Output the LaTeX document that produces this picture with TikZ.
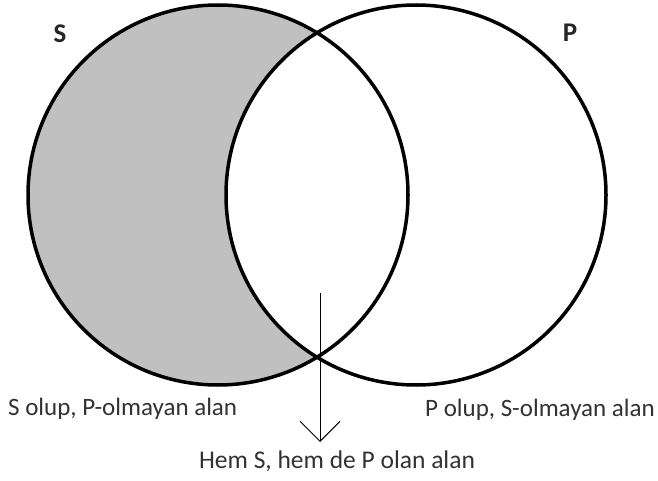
\documentclass[tikz,border=0pt]{standalone}
\usepackage{fontspec}
\setmainfont{Carlito}
\usetikzlibrary{arrows.meta, positioning, calc}

\definecolor{golge}{RGB}{192,192,192}
\definecolor{yazi}{RGB}{50,50,50}

\tikzset{
    kume/.style={line width=3.5pt, black},
    etiket/.style={font=\fontsize{27}{30}\selectfont\bfseries, text=black!85},
    aciklama/.style={font=\fontsize{25}{28}\selectfont, text=yazi, inner sep=0pt}
}

\begin{document}
\begin{tikzpicture}[x=1pt, y=-1pt]
        \useasboundingbox (0,0) rectangle (658,481);

        % Kume merkezleri
        \coordinate (Sm) at (218,195);
        \coordinate (Pm) at (416,195);

        % S - P bolgesi
        \fill[golge] (Sm) circle[radius=190pt];
        \fill[white] (Pm) circle[radius=190pt];

        % Kumeler
        \draw[kume] (Sm) circle[radius=190pt];
        \draw[kume] (Pm) circle[radius=190pt];

        % Kume adlari
        \node[etiket] (Sad) at (60,34) {S};
        \node[etiket] (Pad) at (570,33) {P};

        % Aciklamalar
        \node[aciklama, anchor=west] (Sbolge) at (8,409) {S olup, P-olmayan alan};
        \node[aciklama, anchor=east] (Pbolge) at (655,410) {P olup, S-olmayan alan};
        \node[aciklama, font=\fontsize{25.5}{28}\selectfont] (ortak) at (337,461) {Hem S, hem de P olan alan};

        % Ok
        \coordinate (okbas) at (320,293);
        \draw[line width=1pt, -{Straight Barb[length=20pt, width=40pt, line width=1pt]}]
            (okbas) -- (okbas |- 0,442);
\end{tikzpicture}
\end{document}
